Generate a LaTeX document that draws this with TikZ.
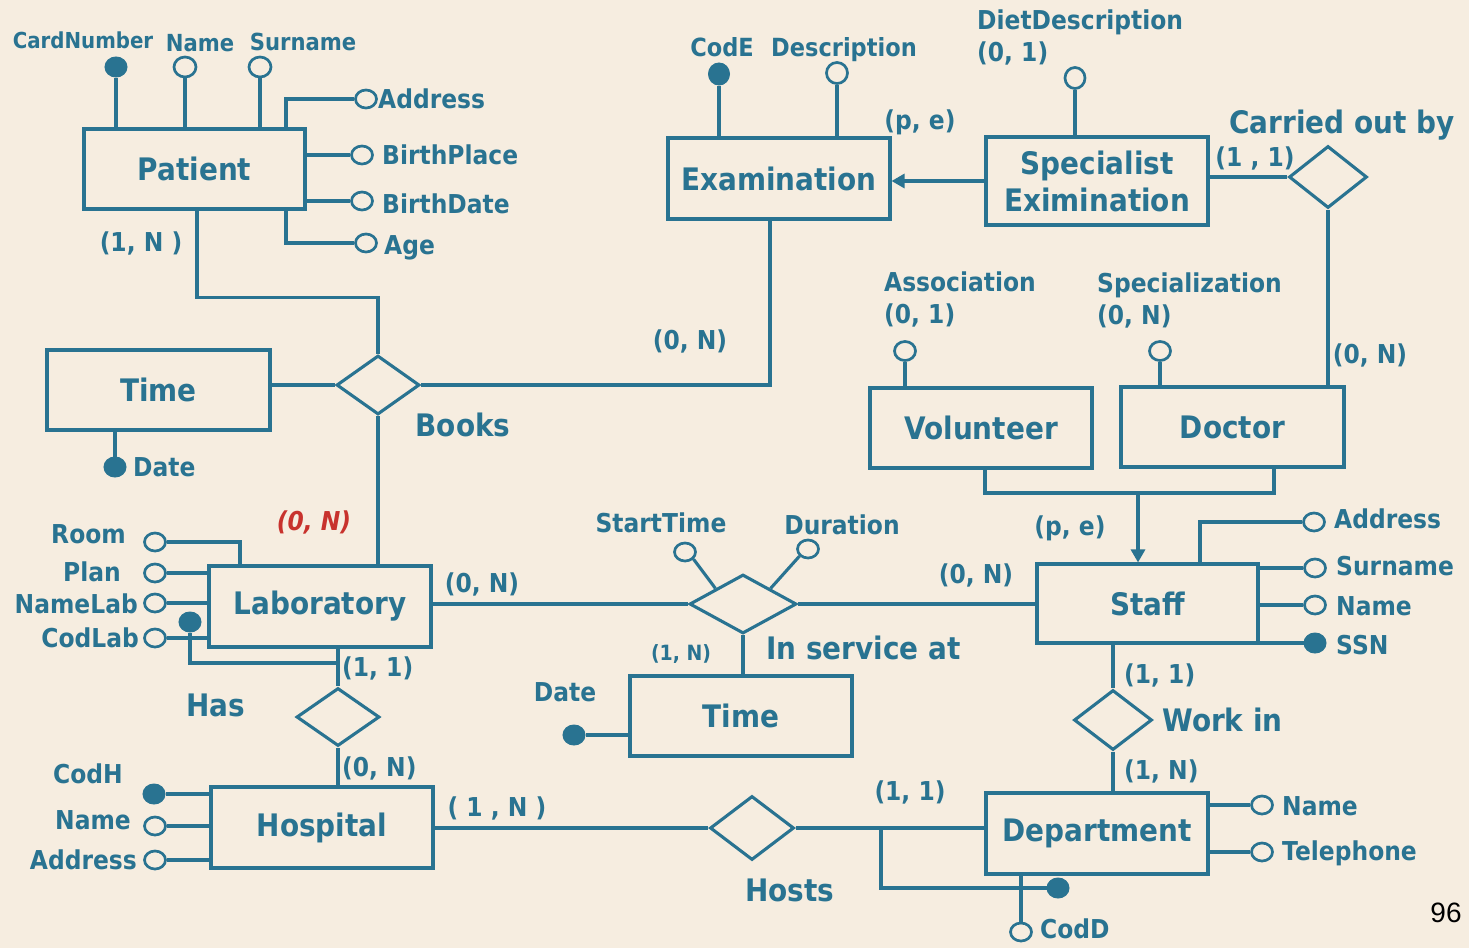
\documentclass[tikz,border=0pt]{standalone}
\usepackage{fontspec}
\setmainfont{DejaVu Sans}[FakeStretch=0.9]
\newfontfamily\arialf{Liberation Sans}
\usetikzlibrary{shapes.geometric,arrows.meta}
\definecolor{ink}{RGB}{41,115,145}
\definecolor{bg}{RGB}{246,237,224}
\definecolor{redc}{RGB}{200,50,45}
\tikzset{
  conn/.style={draw=ink, line width=3.1pt},
  eBox/.style={draw=ink, line width=3.1pt, rectangle, inner sep=0pt, text=ink, align=center,
    font=\bfseries\fontsize{31}{37}\selectfont},
  rDiam/.style={draw=ink, line width=3.1pt, diamond, inner sep=0pt, fill=bg},
  oAttr/.style={draw=ink, line width=2.7pt, ellipse, fill=bg, minimum width=21pt, minimum height=18pt, inner sep=0pt},
  kAttr/.style={draw=ink, fill=ink, line width=1pt, ellipse, minimum width=22pt, minimum height=20pt, inner sep=0pt},
  tLbl/.style={text=ink, inner sep=0pt, text height=0.74em, text depth=0.2em, yshift=-7pt, font=\bfseries\fontsize{26}{30}\selectfont},
  tSm/.style={tLbl, font=\bfseries\fontsize{23.5}{28}\selectfont},
  tRel/.style={tLbl, font=\bfseries\fontsize{31}{36}\selectfont},
}
\begin{document}
\begin{tikzpicture}[x=1pt,y=-1pt]
\fill[bg] (0,0) rectangle (1469,948);
\useasboundingbox (0,0) rectangle (1469,948);

% ---------- entities ----------
\node[eBox, minimum width=221pt, minimum height=80pt] (patient) at (194.5,169) {Patient};
\node[eBox, minimum width=222pt, minimum height=81pt] (exam) at (779,178.5) {Examination};
\node[eBox, minimum width=222pt, minimum height=88pt] (spec) at (1097,181) {Specialist\\Eximination};
\node[eBox, minimum width=223pt, minimum height=80pt] (timeL) at (158.5,390) {Time};
\node[eBox, minimum width=222pt, minimum height=80pt] (vol) at (981,428) {Volunteer};
\node[eBox, minimum width=223pt, minimum height=80pt] (doctor) at (1232.5,427) {Doctor};
\node[eBox, minimum width=222pt, minimum height=81pt] (lab) at (320,606.5) {Laboratory};
\node[eBox, minimum width=221pt, minimum height=79pt] (staff) at (1147.5,603.5) {Staff};
\node[eBox, minimum width=222pt, minimum height=80pt] (timeM) at (741,716) {Time};
\node[eBox, minimum width=222pt, minimum height=81pt] (hosp) at (322,827.5) {Hospital};
\node[eBox, minimum width=222pt, minimum height=81pt] (dept) at (1097,833.5) {Department};

% ---------- relationships ----------
\node[rDiam, minimum width=83pt, minimum height=59pt] (books) at (378,385) {};
\node[rDiam, minimum width=78pt, minimum height=62pt] (carried) at (1328,177) {};
\node[rDiam, minimum width=107pt, minimum height=59pt] (inservice) at (743,604) {};
\node[rDiam, minimum width=83pt, minimum height=58pt] (has) at (338,717) {};
\node[rDiam, minimum width=78pt, minimum height=60pt] (workin) at (1113,720) {};
\node[rDiam, minimum width=84pt, minimum height=64pt] (hosts) at (752,828) {};

% ---------- connectors between entities/relationships ----------
\draw[conn] ([xshift=2.5pt]patient.south) -- ++(0,87) -| (books.north);
\draw[conn] (books.east) -| ([xshift=-9pt]exam.south);
\draw[conn] (timeL.east |- books.west) -- (books.west);
\draw[conn] (books.south) -- (books.south |- lab.north);
\draw[conn, -{Triangle[length=13pt,width=14pt]}] (spec.west) -- (spec.west -| exam.east);
\draw[conn] (carried.west) -- (carried.west -| spec.east);
\draw[conn] (carried.south) -- (carried.south |- doctor.north);
\coordinate (isa) at (1138,493);
\draw[conn] ([xshift=4pt]vol.south) |- (isa) -| ([xshift=41.5pt]doctor.south);
\draw[conn, -{Triangle[length=13pt,width=14pt]}] (isa) -- (isa |- staff.north);
\draw[conn] (lab.east |- inservice.west) -- (inservice.west);
\draw[conn] (inservice.east) -- (inservice.east -| staff.west);
\draw[conn] (inservice.south) -- (inservice.south |- timeM.north);
\draw[conn] (workin.north |- staff.south) -- (workin.north);
\draw[conn] (workin.south) -- (workin.south |- dept.north);
\draw[conn] (has.north |- lab.south) -- (has.north);
\draw[conn] (has.south) -- (has.south |- hosp.north);
\draw[conn] (hosp.east |- hosts.west) -- (hosts.west);
\draw[conn] (hosts.east) -- (hosts.east -| dept.west);

% external identifiers
\coordinate (labj) at (338,663);
\node[kAttr] (codlabk) at (190,622) {};
\draw[conn] (codlabk.south) |- (labj);
\coordinate (hj) at (881,828);
\node[kAttr] (deptk) at (1058,888) {};
\draw[conn] (hj) |- (deptk.west);

% ---------- attributes ----------
% Patient
\node[kAttr] (cardn) at (116,67) {};
\node[oAttr, minimum width=22pt, minimum height=20pt] (pname) at (185,67) {};
\node[oAttr, minimum width=22pt, minimum height=20pt] (psurn) at (260,67) {};
\draw[conn] (cardn.south) -- (cardn.south |- patient.north);
\draw[conn] (pname.south) -- (pname.south |- patient.north);
\draw[conn] (psurn.south) -- (psurn.south |- patient.north);
\node[oAttr] (paddr) at (366,99) {};
\draw[conn] (paddr.west) -| ([xshift=91.5pt]patient.north);
\node[oAttr] (pbp) at (362,155) {};
\draw[conn] (pbp.west) -- (pbp.west -| patient.east);
\node[oAttr] (pbd) at (362,201) {};
\draw[conn] (pbd.west) -- (pbd.west -| patient.east);
\node[oAttr] (page) at (366,243) {};
\draw[conn] (page.west) -| ([xshift=91.5pt]patient.south);
% Examination
\node[kAttr, minimum width=21pt, minimum height=22pt] (code) at (719,74) {};
\node[oAttr, minimum width=21pt, minimum height=21pt] (descr) at (837,73) {};
\draw[conn] (code.south) -- (code.south |- exam.north);
\draw[conn] (descr.south) -- (descr.south |- exam.north);
% Specialist
\node[oAttr, minimum width=20pt, minimum height=21pt] (diet) at (1075,78) {};
\draw[conn] (diet.south) -- (diet.south |- spec.north);
% Time left
\node[kAttr] (dateL) at (115,467) {};
\draw[conn] (dateL.north) -- (dateL.north |- timeL.south);
% Volunteer / Doctor
\node[oAttr, minimum width=21pt, minimum height=19pt] (assoc) at (905,351) {};
\draw[conn] (assoc.south) -- (assoc.south |- vol.north);
\node[oAttr, minimum width=21pt, minimum height=19pt] (specz) at (1160,351) {};
\draw[conn] (specz.south) -- (specz.south |- doctor.north);
% Laboratory
\node[oAttr] (room) at (155,542) {};
\draw[conn] (room.east) -| ([xshift=-80pt]lab.north);
\node[oAttr] (plan) at (155,573) {};
\draw[conn] (plan.east) -- (plan.east -| lab.west);
\node[oAttr] (namelab) at (155,603) {};
\draw[conn] (namelab.east) -- (namelab.east -| lab.west);
\node[oAttr] (codlab) at (155,638) {};
\draw[conn] (codlab.east) -- (codlab.east -| lab.west);
% In service at
\node[oAttr] (start) at (685,552) {};
\draw[conn] (start.-40) -- (inservice.north west);
\node[oAttr] (dur) at (808,549) {};
\draw[conn] (dur.220) -- (inservice.north east);
% Time middle
\node[kAttr] (dateM) at (574,735) {};
\draw[conn] (dateM.east) -- (dateM.east -| timeM.west);
% Staff
\node[oAttr] (saddr) at (1314,522) {};
\draw[conn] (saddr.west) -| ([xshift=52.5pt]staff.north);
\node[oAttr] (ssurn) at (1315,568) {};
\draw[conn] (ssurn.west) -- (ssurn.west -| staff.east);
\node[oAttr] (sname) at (1315,605) {};
\draw[conn] (sname.west) -- (sname.west -| staff.east);
\node[kAttr] (sssn) at (1315,643) {};
\draw[conn] (sssn.west) -- (sssn.west -| staff.east);
% Hospital
\node[kAttr] (codh) at (154,794) {};
\draw[conn] (codh.east) -- (codh.east -| hosp.west);
\node[oAttr] (hname) at (155,826) {};
\draw[conn] (hname.east) -- (hname.east -| hosp.west);
\node[oAttr] (haddr) at (155,860) {};
\draw[conn] (haddr.east) -- (haddr.east -| hosp.west);
% Department
\node[oAttr] (dname) at (1262,805) {};
\draw[conn] (dname.west) -- (dname.west -| dept.east);
\node[oAttr] (dtel) at (1262,852) {};
\draw[conn] (dtel.west) -- (dtel.west -| dept.east);
\node[oAttr] (codd) at (1021,932) {};
\draw[conn] ([xshift=-76pt]dept.south) -- (codd.north);

% ---------- labels ----------
\node[tSm, font=\bfseries\fontsize{22}{26}\selectfont] (lCard) at (83,39) {CardNumber};
\node[tSm] (lPName) at (200,42) {Name};
\node[tSm] (lPSurn) at (303,41) {Surname};
\node[tLbl, anchor=west] (lPAddr) at (378,99) {Address};
\node[tLbl, anchor=west] (lPBP) at (382,155) {BirthPlace};
\node[tLbl, anchor=west] (lPBD) at (382,204) {BirthDate};
\node[tLbl, anchor=west] (lPAge) at (384,245) {Age};
\node[tLbl] (cPat) at (141,242) {(1, N )};

\node[tLbl, font=\bfseries\fontsize{25}{30}\selectfont] (lCodE) at (722,47) {CodE};
\node[tLbl, font=\bfseries\fontsize{25}{30}\selectfont] (lDescr) at (844,47) {Description};
\node[tLbl, anchor=west] (lDiet) at (977,20) {DietDescription};
\node[tLbl, anchor=west] (lDiet2) at (977,52) {(0, 1)};
\node[tLbl] (cPE1) at (920,120) {(p, e)};
\node[tRel] (lCarried) at (1342,124) {Carried out by};
\node[tLbl] (cCar1) at (1255,157) {(1 , 1)};
\node[tLbl] (cCar2) at (1370,354) {(0, N)};

\node[tLbl, anchor=west] (lAssoc) at (884,282) {Association};
\node[tLbl, anchor=west] (lAssoc2) at (884,314) {(0, 1)};
\node[tLbl, anchor=west] (lSpecz) at (1097,283) {Specialization};
\node[tLbl, anchor=west] (lSpecz2) at (1097,315) {(0, N)};

\node[tLbl] (cExam) at (690,340) {(0, N)};
\node[tRel] (lBooks) at (463,427) {Books};
\node[tLbl, anchor=west] (lDateL) at (133,467) {Date};
\node[tLbl, text=redc, font=\bfseries\itshape\fontsize{26}{30}\selectfont] (cLabB) at (314,521) {(0, N)};

\node[tLbl, anchor=east] (lRoom) at (126,534) {Room};
\node[tLbl, anchor=east] (lPlan) at (121,572) {Plan};
\node[tLbl, anchor=east] (lNameLab) at (138,604) {NameLab};
\node[tLbl, anchor=east] (lCodLab) at (139,638) {CodLab};

\node[tLbl] (cLabS) at (482,583) {(0, N)};
\node[tLbl] (lStart) at (661,523) {StartTime};
\node[tLbl] (lDur) at (842,525) {Duration};
\node[tLbl] (cStaffS) at (976,574) {(0, N)};
\node[tLbl] (cPE2) at (1070,526) {(p, e)};
\node[tLbl, font=\bfseries\fontsize{21}{25}\selectfont] (cTimeS) at (681,651) {(1, N)};
\node[tRel, anchor=west] (lInServ) at (766,650) {In service at};
\node[tLbl] (lDateM) at (565,692) {Date};

\node[tLbl, anchor=west] (cLabH) at (342,667) {(1, 1)};
\node[tRel] (lHas) at (216,707) {Has};
\node[tLbl, anchor=west] (cHospH) at (342,767) {(0, N)};
\node[tLbl] (lCodH) at (88,774) {CodH};
\node[tLbl, anchor=east] (lHName) at (131,820) {Name};
\node[tLbl, anchor=east] (lHAddr) at (137,860) {Address};
\node[tLbl] (cHospHo) at (497,807) {( 1 , N )};
\node[tRel] (lHosts) at (790,892) {Hosts};
\node[tLbl] (cDeptHo) at (910,791) {(1, 1)};

\node[tLbl, anchor=west] (lSAddr) at (1334,519) {Address};
\node[tLbl, anchor=west] (lSSurn) at (1336,566) {Surname};
\node[tLbl, anchor=west] (lSName) at (1336,606) {Name};
\node[tLbl, anchor=west] (lSSN) at (1336,645) {SSN};
\node[tLbl, anchor=west] (cStaffW) at (1124,674) {(1, 1)};
\node[tRel, anchor=west] (lWork) at (1162,722) {Work in};
\node[tLbl, anchor=west] (cDeptW) at (1124,770) {(1, N)};
\node[tLbl, anchor=west] (lDName) at (1282,806) {Name};
\node[tLbl, anchor=west] (lDTel) at (1282,851) {Telephone};
\node[tLbl, anchor=west] (lCodD) at (1040,929) {CodD};

\node[inner sep=0pt, font=\arialf\fontsize{28}{32}\selectfont] (pageno) at (1446,913) {96};
\end{tikzpicture}
\end{document}
